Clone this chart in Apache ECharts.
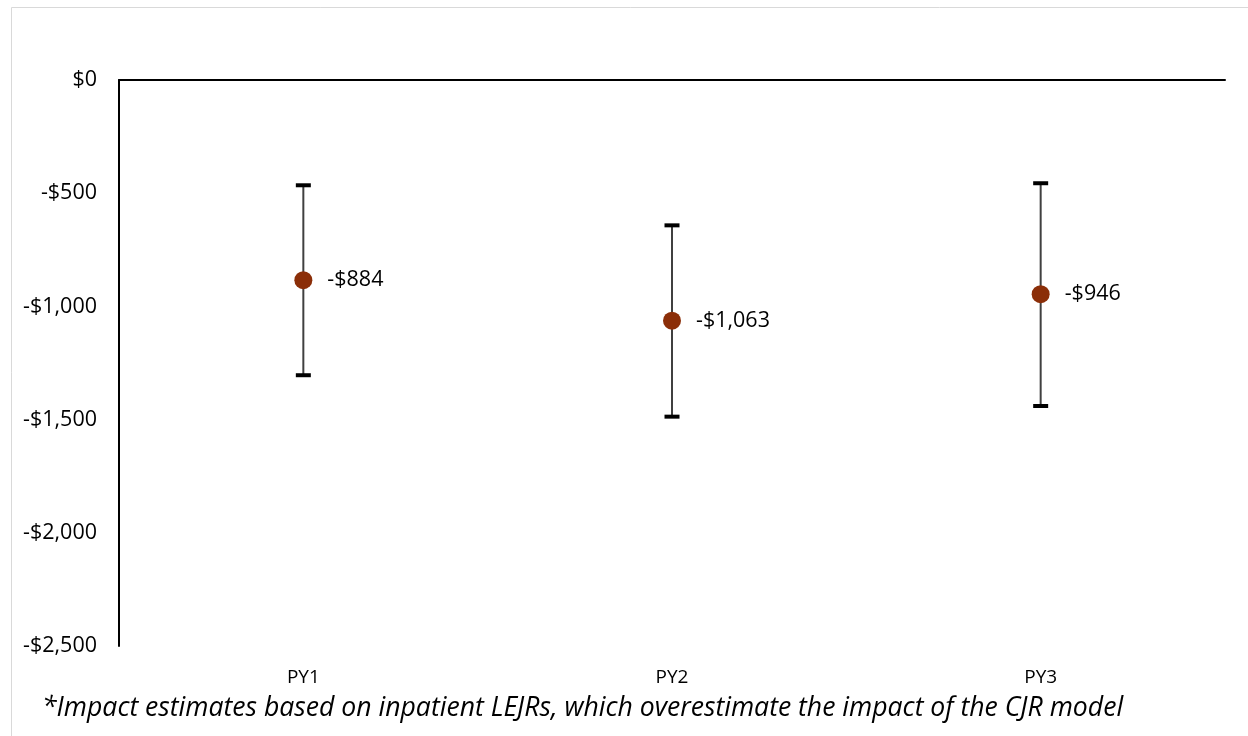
<!DOCTYPE html>
<html>
<head>
<meta charset="utf-8">
<script src="https://cdn.jsdelivr.net/npm/echarts@6/dist/echarts.min.js"></script>
<style>
html,body{margin:0;padding:0;background:#fff;}
#chart{width:1248px;height:736px;}
</style>
</head>
<body>
<div id="chart"></div>
<script>
var categories = ['PY1', 'PY2', 'PY3'];
var estimates = [-884, -1063, -946];
var upperBounds = [-465, -642, -456];
var lowerBounds = [-1304, -1487, -1440];
var yTicks = [0, -500, -1000, -1500, -2000, -2500];
var footnote = '*Impact estimates based on inpatient LEJRs, which overestimate the impact of the CJR model';

function money(v) {
  var a = Math.abs(v).toLocaleString('en-US');
  return (v < 0 ? '-$' : '$') + a;
}

var FONT = 'Open Sans';
var chart = echarts.init(document.getElementById('chart'));

var errData = categories.map(function (c, i) { return [i, upperBounds[i], lowerBounds[i]]; });

chart.setOption({
  backgroundColor: '#fff',
  animation: false,
  grid: { left: 119, right: 23, top: 80, bottom: 90, containLabel: false },
  xAxis: [{
    type: 'category',
    data: categories,
    position: 'top',
    axisLine: { show: true, lineStyle: { color: '#000', width: 2 } },
    axisTick: { show: false },
    axisLabel: { show: false },
    splitLine: { show: false }
  }, {
    type: 'category',
    data: categories,
    position: 'bottom',
    axisLine: { show: false },
    axisTick: { show: false },
    axisLabel: { show: true, color: '#000', fontSize: 19, fontFamily: FONT, margin: 22 },
    splitLine: { show: false }
  }],
  yAxis: {
    type: 'value',
    min: -2500, max: 0, interval: 500,
    axisLine: { show: true, lineStyle: { color: '#000', width: 2 } },
    axisTick: { show: false },
    splitLine: { show: false },
    axisLabel: { color: '#000', fontSize: 21.5, fontFamily: FONT, margin: 22, formatter: function (v) { return money(v); } }
  },
  graphic: [
    { type: 'rect', shape: { x: 11.5, y: 7.5, width: 1300, height: 800 }, style: { fill: null, stroke: '#d9d9d9', lineWidth: 1 }, silent: true },
    { type: 'text', x: 42, y: 708, style: { text: footnote, fontStyle: 'italic', fontSize: 26.6, fontFamily: FONT, fill: '#000', verticalAlign: 'middle' } }
  ],
  series: [
    {
      type: 'custom',
      data: errData,
      z: 2,
      renderItem: function (params, api) {
        var x = api.value(0);
        var top = api.coord([x, api.value(1)]);
        var bot = api.coord([x, api.value(2)]);
        var hw = 7.5;
        return {
          type: 'group',
          children: [
            { type: 'line', shape: { x1: top[0], y1: top[1], x2: bot[0], y2: bot[1] }, style: { stroke: '#404040', lineWidth: 2 } },
            { type: 'line', shape: { x1: top[0] - hw, y1: top[1], x2: top[0] + hw, y2: top[1] }, style: { stroke: '#000', lineWidth: 4 } },
            { type: 'line', shape: { x1: bot[0] - hw, y1: bot[1], x2: bot[0] + hw, y2: bot[1] }, style: { stroke: '#000', lineWidth: 4 } }
          ]
        };
      }
    },
    {
      type: 'scatter',
      data: estimates,
      symbol: 'circle',
      symbolSize: 18,
      z: 3,
      itemStyle: { color: '#8B2E08', opacity: 1 },
      label: {
        show: true, position: 'right', distance: 15,
        color: '#000', fontSize: 21.5, fontFamily: FONT,
        formatter: function (p) { return money(p.value); }
      }
    }
  ]
});
</script>
</body>
</html>
